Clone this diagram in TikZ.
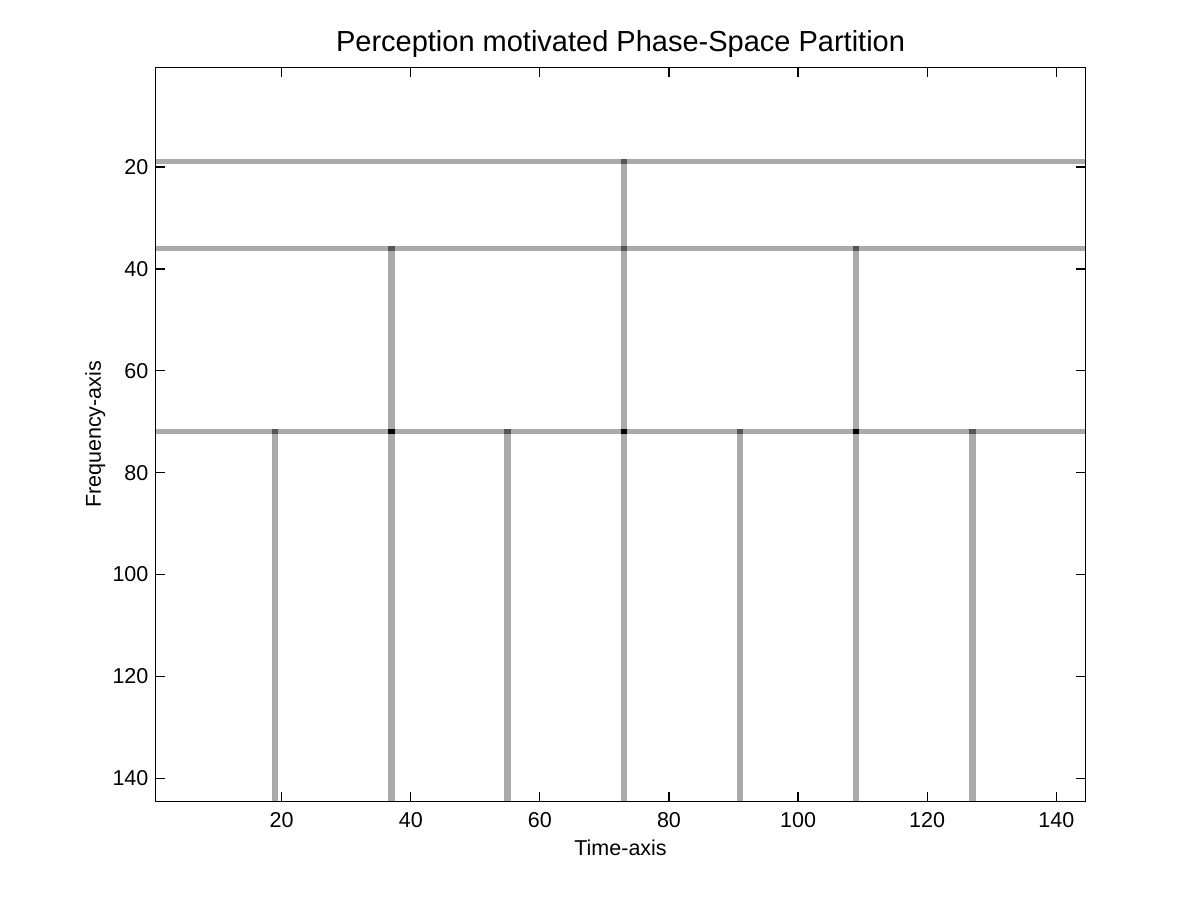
\documentclass[tikz,border=0pt]{standalone}
\usepackage{fontspec}
\setmainfont{Liberation Sans}
\usepackage{tikz}
\definecolor{cellgray}{RGB}{170,170,170}
\definecolor{crossgray}{RGB}{85,85,85}

\begin{document}
\begin{tikzpicture}[x=0.5pt,y=-0.5pt]
  \tikzset{
    CellStyle/.style = {fill=cellgray, draw=none},
    CrossStyle/.style = {fill=crossgray, draw=none},
    TripleStyle/.style = {fill=black, draw=none},
    AxisStyle/.style = {line width=0.6pt, black},
    TickLabel/.style = {inner sep=0pt, font=\fontsize{10.75}{13}\selectfont},
    AxisLabel/.style = {inner sep=0pt, font=\fontsize{10.75}{13}\selectfont},
    TitleStyle/.style = {inner sep=0pt, font=\fontsize{14.5}{17}\selectfont} }
  \useasboundingbox[fill=white] (0,0) rectangle (1200,900);

  % data frame: one unit = one partition cell
  \begin{scope}[shift={(152.57,65.15)}, x=3.2275pt, y=-2.547pt]
    % horizontal cuts
    \foreach \r in {19,36,72}
      \fill[CellStyle] (0.5,\r-0.5) rectangle (144.5,\r+0.5);
    % vertical cuts
    \fill[CellStyle] (72.5,18.5) rectangle (73.5,36.5);
    \foreach \c in {37,73,109}
      \fill[CellStyle] (\c-0.5,35.5) rectangle (\c+0.5,72.5);
    \foreach \c in {19,37,...,127}
      \fill[CellStyle] (\c-0.5,71.5) rectangle (\c+0.5,144.5);
    % crossings
    \foreach \c/\r in {73/19,37/36,73/36,109/36,19/72,55/72,91/72,127/72}
      \fill[CrossStyle] (\c-0.5,\r-0.5) rectangle (\c+0.5,\r+0.5);
    \foreach \c in {37,73,109}
      \fill[TripleStyle] (\c-0.5,71.5) rectangle (\c+0.5,72.5);

    % axes box and ticks
    \draw[AxisStyle] (0.5,0.5) rectangle (144.5,144.5);
    \foreach \v in {20,40,...,140} {
      \draw[AxisStyle] (\v,144.5) -- ++(0,4.5pt);
      \draw[AxisStyle] (\v,0.5) -- ++(0,-4.5pt);
      \draw[AxisStyle] (0.5,\v) -- ++(4.5pt,0);
      \draw[AxisStyle] (144.5,\v) -- ++(-4.5pt,0);
      \node[TickLabel, anchor=north, yshift=-5.5pt] (xt\v) at (\v,144.5) {\v};
      \node[TickLabel, anchor=east, xshift=-3.5pt] (yt\v) at (0.5,\v) {\v};
    }

    \node[AxisLabel, anchor=base, yshift=-27pt] (timelabel) at (72.5,144.5) {Time-axis};
    \node[AxisLabel, xshift=-27.5pt, rotate=90, anchor=base] (freqlabel) at (0.5,72.5) {Frequency-axis};
    \node[TitleStyle, anchor=base, yshift=8pt] (title) at (72.5,0.5) {Perception motivated Phase-Space Partition};
  \end{scope}
\end{tikzpicture}
\end{document}
